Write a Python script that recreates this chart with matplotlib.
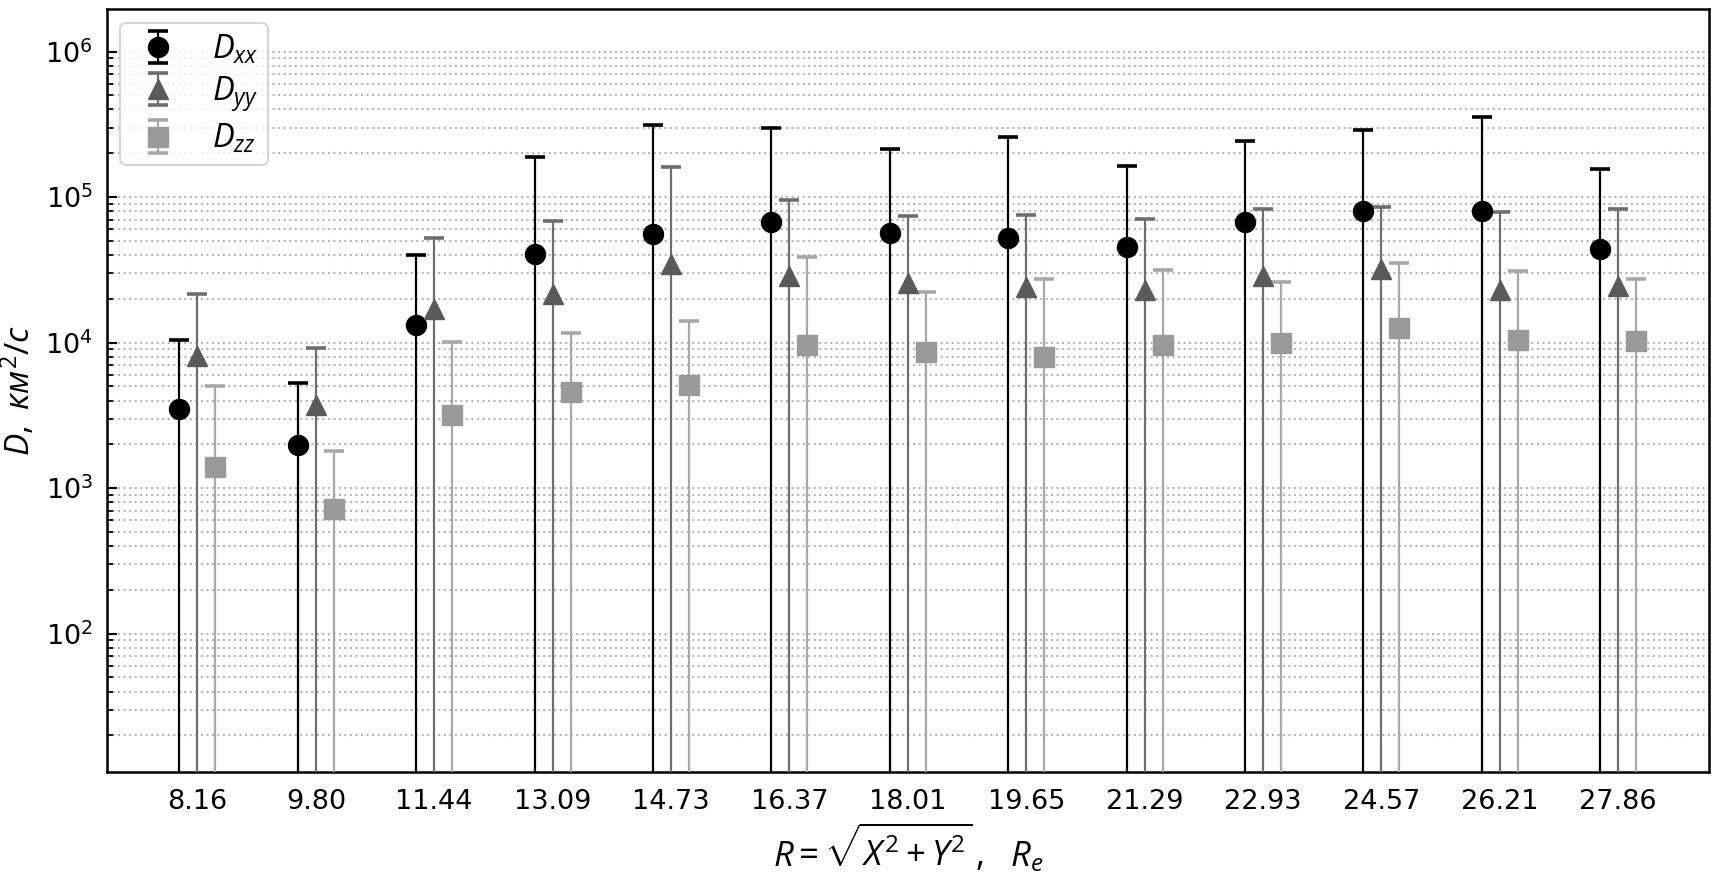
import numpy as np
import matplotlib
matplotlib.use("Agg")
import matplotlib.pyplot as plt

# ---- data ----
r_labels = ["8.16", "9.80", "11.44", "13.09", "14.73", "16.37", "18.01",
            "19.65", "21.29", "22.93", "24.57", "26.21", "27.86"]

dxx = [3475, 1972, 13190, 40400, 56000, 67100, 56900, 52100, 45400, 67700, 80200, 80200, 44000]
dxx_err = [6900, 3300, 26800, 147600, 256000, 230000, 156000, 208000, 119000, 175000, 211000, 277000, 112000]

dyy = [8040, 3700, 17090, 21570, 34700, 28650, 25800, 24200, 22960, 28500, 32200, 22850, 24500]
dyy_err = [13430, 5460, 35010, 46930, 126300, 66850, 48700, 51500, 47740, 53900, 53700, 56150, 58300]

dzz = [1400, 716, 3170, 4590, 5100, 9610, 8560, 7940, 9660, 9870, 12500, 10400, 10240]
dzz_err = [3650, 1079, 6860, 7090, 8900, 29290, 13690, 19260, 21840, 16030, 22500, 20600, 17060]

series_labels = [r"$D_{xx}$", r"$D_{yy}$", r"$D_{zz}$"]

# ---- style ----
plt.rcParams["mathtext.fontset"] = "dejavusans"
plt.rcParams["mathtext.rm"] = "Open Sans"
plt.rcParams["mathtext.it"] = "Open Sans:italic"
plt.rcParams["mathtext.bf"] = "Open Sans:bold"

fig = plt.figure(figsize=(17.16, 8.82), dpi=100)
ax = fig.add_axes([0.0622, 0.1247, 0.9337, 0.8651])
ax.set_yscale("log", nonpositive="clip")

x = np.arange(len(r_labels))
off = 0.152
styles = [
    dict(fmt="o", color="black", ecolor="black"),
    dict(fmt="^", color="#5a5a5a", ecolor="#6e6e6e"),
    dict(fmt="s", color="#9a9a9a", ecolor="#a8a8a8"),
]
data = [(dxx, dxx_err), (dyy, dyy_err), (dzz, dzz_err)]
for i, ((vals, errs), st, lab) in enumerate(zip(data, styles, series_labels)):
    ax.errorbar(x + (i - 1) * off, vals, yerr=errs, fmt=st["fmt"],
                color=st["color"], ecolor=st["ecolor"], markersize=14.4,
                elinewidth=1.6, capsize=7.2, capthick=2.6, label=lab, zorder=3)

ax.set_xlim(-0.766, len(r_labels) - 1 + 0.766)
ax.set_ylim(11.2, 1.96e6)
ax.set_xticks(x)
ax.set_xticklabels(r_labels)

ax.yaxis.grid(True, which="both", linestyle=":", color="#b5b5b5", linewidth=1.5)
ax.set_axisbelow(True)

ax.tick_params(axis="x", length=0, labelsize=19.5, pad=12)
ax.tick_params(axis="y", which="major", direction="in", length=7, width=1.5, labelsize=19.5, pad=10)
ax.tick_params(axis="y", which="minor", direction="in", length=4.5, width=1.3)
for s in ax.spines.values():
    s.set_linewidth(1.8)

ax.set_ylabel(r"$D,\ км^2/с$", fontsize=24, math_fontfamily="custom", labelpad=6)
ax.set_xlabel(r"$R = \sqrt{X^2 + Y^2}\,,\ \ R_e$", fontsize=25,
              math_fontfamily="custom", labelpad=4)

leg = ax.legend(loc="upper left", frameon=True, fancybox=True,
                edgecolor="#cccccc", labelspacing=0.25, borderaxespad=0.42,
                borderpad=0.3, handlelength=1.7,
                prop={"size": 23.5, "math_fontfamily": "custom"})
leg.get_frame().set_linewidth(1.5)

fig.savefig("out.png", dpi=100)
